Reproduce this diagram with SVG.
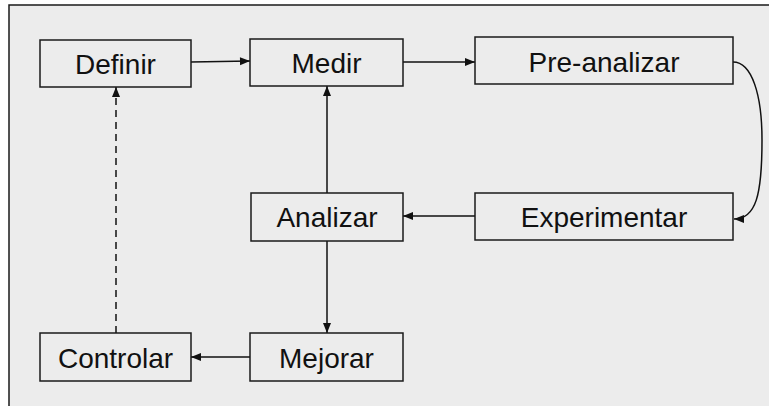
<svg xmlns="http://www.w3.org/2000/svg" width="769" height="406" viewBox="0 0 769 406">
  <style>
    .box { fill: none; stroke: #1a1a1a; stroke-width: 1.5; }
    .lbl { font-family: "Liberation Sans", Arial, sans-serif; font-size: 28px; fill: #111; text-anchor: middle; }
    .edge { fill: none; stroke: #111; stroke-width: 1.5; marker-end: url(#arrow); }
    .dash { stroke-dasharray: 7 5; }
  </style>
  <defs>
    <marker id="arrow" markerUnits="userSpaceOnUse" markerWidth="12" markerHeight="10" viewBox="0 0 12 10" refX="11" refY="5" orient="auto">
      <path d="M1,1 L11,5 L1,9 Z" fill="#111"/>
    </marker>
  </defs>

  <!-- panel -->
  <rect x="9" y="5" width="760" height="401" fill="#ececec"/>
  <path d="M9,406 V5 H769" fill="none" stroke="#1a1a1a" stroke-width="1.5"/>

  <!-- connectors -->
  <g id="connectors">
    <path class="edge" d="M191,62 L250,61"/>
    <path class="edge" d="M403,62 L475,62"/>
    <path class="edge" d="M733,62 C752,62 762,95 762,140 C762,195 756,219 734,219"/>
    <path class="edge" d="M475,216 L403,216"/>
    <path class="edge" d="M327,193 L327,86"/>
    <path class="edge" d="M327,241 L327,333"/>
    <path class="edge" d="M250,357 L191,357"/>
    <path class="edge dash" d="M116,333 L116,87"/>
  </g>

  <!-- nodes -->
  <g id="definir">
    <rect class="box" x="40" y="40" width="151" height="47"/>
    <text class="lbl" x="115.5" y="74">Definir</text>
  </g>
  <g id="medir">
    <rect class="box" x="250" y="39" width="153" height="47"/>
    <text class="lbl" x="326.5" y="73">Medir</text>
  </g>
  <g id="pre-analizar">
    <rect class="box" x="475" y="37" width="258" height="47"/>
    <text class="lbl" x="604" y="71.5">Pre-analizar</text>
  </g>
  <g id="analizar">
    <rect class="box" x="251" y="193" width="152" height="48"/>
    <text class="lbl" x="327" y="227">Analizar</text>
  </g>
  <g id="experimentar">
    <rect class="box" x="475" y="193" width="258" height="47"/>
    <text class="lbl" x="604" y="227">Experimentar</text>
  </g>
  <g id="controlar">
    <rect class="box" x="40" y="333" width="151" height="48"/>
    <text class="lbl" x="115.5" y="368">Controlar</text>
  </g>
  <g id="mejorar">
    <rect class="box" x="250" y="333" width="153" height="48"/>
    <text class="lbl" x="326.5" y="368">Mejorar</text>
  </g>
</svg>
